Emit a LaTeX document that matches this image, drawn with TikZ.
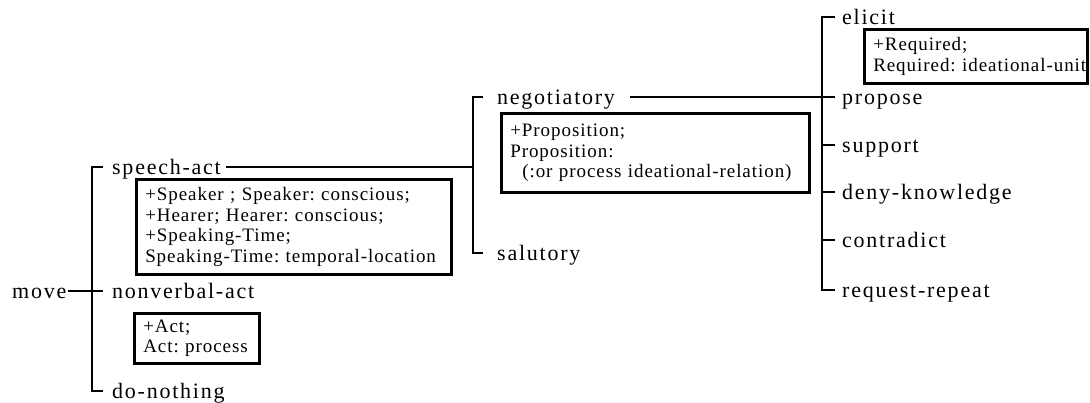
\documentclass[tikz,border=0pt]{standalone}
\usepackage{fontspec}
\setmainfont{Liberation Serif}
\newfontfamily\labelfont[LetterSpace=8]{Liberation Serif}
\newfontfamily\boxfont[LetterSpace=5]{Liberation Serif}
\frenchspacing
\begin{document}
\begin{tikzpicture}[x=1pt,y=-1pt,
  link/.style={line width=2.5pt},
  lbl/.style={anchor=base west,inner sep=0pt,text height=14pt,text depth=0pt,
    font=\labelfont\fontsize{22}{24}\selectfont},
  featbox/.style={draw,line width=2.5pt,anchor=north west,align=left,
    inner xsep=9pt,inner ysep=0pt,
    font=\boxfont\fontsize{19}{20.5}\selectfont}]
\useasboundingbox (0,0) rectangle (1090,402);

% --- labels (base west at text start; centre line sits 7pt above the baseline)
\node[lbl] (move)        at (12,298)  {move};
\node[lbl] (speech)      at (112,174) {speech-act};
\node[lbl] (nonverbal)   at (112,298) {nonverbal-act};
\node[lbl] (donothing)   at (112,398) {do-nothing};
\node[lbl] (negot)       at (497,104) {negotiatory};
\node[lbl] (salut)       at (497,260) {salutory};
\node[lbl] (elicit)      at (842,24)  {elicit};
\node[lbl] (propose)     at (842,104) {propose};
\node[lbl] (support)     at (842,152) {support};
\node[lbl] (deny)        at (842,199) {deny-knowledge};
\node[lbl] (contradict)  at (842,247) {contradict};
\node[lbl] (request)     at (842,297) {request-repeat};

% --- feature boxes
\node[featbox,text width=297pt,minimum height=95pt] (speechbox) at (135,178)
  {+Speaker ; Speaker: conscious;\\+Hearer; Hearer: conscious;\\+Speaking-Time;\\Speaking-Time: temporal-location};
\node[featbox,text width=107pt,minimum height=50pt] (actbox) at (133,312)
  {+Act;\\Act: process};
\node[featbox,text width=290pt,minimum height=79pt] (propbox) at (500,112)
  {+Proposition;\\Proposition:\\\hspace*{12pt}(:or process ideational-relation)};
\node[featbox,inner xsep=6pt,text width=211pt,minimum height=54pt] (reqbox) at (863,28)
  {\hspace*{3pt}+Required;\\\mbox{\hspace*{3pt}Required: ideational-unit}};

% --- bracket spines
\coordinate (Lbar) at (92,0);
\coordinate (Mbar) at (473,0);
\coordinate (Rbar) at (822,0);

% move -> {speech-act, nonverbal-act, do-nothing}
\draw[link] ([xshift=-9pt]speech.west) -- (speech.west -| Lbar)
  -- (donothing.west -| Lbar) -- ([xshift=-9pt]donothing.west);
\draw[link] ([xshift=1pt]move.east) -- ([xshift=-9pt]nonverbal.west);

% speech-act -> {negotiatory, salutory}
\draw[link] ([xshift=-14pt]negot.west) -- (negot.west -| Mbar)
  -- (salut.west -| Mbar) -- ([xshift=-14pt]salut.west);
\draw[link] ([xshift=5pt]speech.east) -- (speech.east -| Mbar);

% negotiatory -> {elicit, ..., request-repeat}
\draw[link] ([xshift=-7pt]elicit.west) -- (elicit.west -| Rbar)
  -- (request.west -| Rbar) -- ([xshift=-7pt]request.west);
\draw[link] ([xshift=15pt]negot.east) -- ([xshift=-7pt]propose.west);
\foreach \n in {support,deny,contradict}
  \draw[link] (\n.west -| Rbar) -- ([xshift=-7pt]\n.west);
\end{tikzpicture}
\end{document}
